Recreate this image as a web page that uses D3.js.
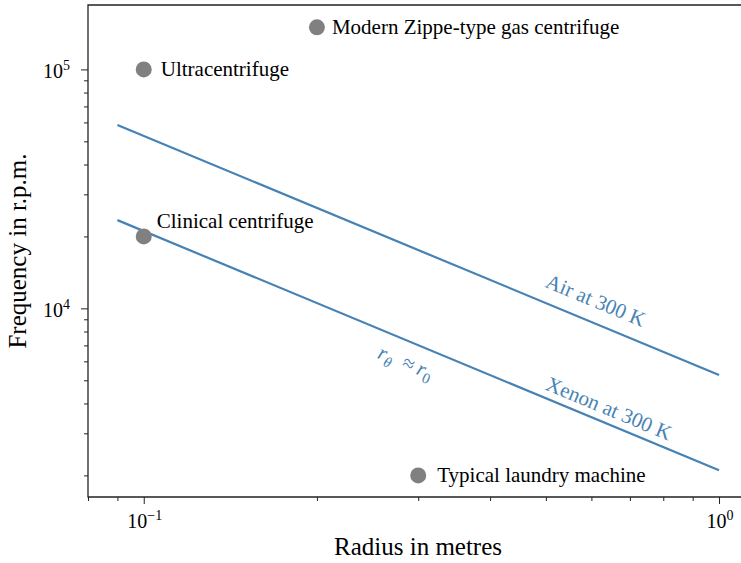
<!DOCTYPE html>
<html>
<head>
<meta charset="utf-8">
<script src="https://cdn.jsdelivr.net/npm/d3@7"></script>
<style>
  body { margin: 0; background: #fff; }
  svg { display: block; font-family: "Liberation Serif", "DejaVu Serif", serif; }
</style>
</head>
<body>
<svg id="chart" width="741" height="563"></svg>
<script>
// limiting rotor speed for two gases, frequency ~ 1/r
const lineRadius = [0.09, 1.0];
const airRpm = [58500, 5260];
const xenonRpm = [23400, 2100];

// some real machines
const machineNames = ["Modern Zippe-type gas centrifuge", "Ultracentrifuge", "Clinical centrifuge", "Typical laundry machine"];
const machineRadius = [0.2, 0.1, 0.1, 0.3];
const machineRpm = [150000, 100000, 20000, 2000];

const xMajorTicks = [0.1, 1];
const xTickExponents = ["\u22121", "0"];
const yMajorTicks = [1e4, 1e5];
const yTickExponents = ["4", "5"];

const BLUE = 'steelblue';
const GREY = 'grey';

const margin = {left: 88, top: 5, right: 748, bottom: 497};

const svg = d3.select('#chart');

const x = d3.scaleLog().domain([0.08, 1.123]).range([margin.left, margin.right]);
const y = d3.scaleLog().domain([1624, 186000]).range([margin.bottom, margin.top]);

/* ticks: majors with labels, minors without */
function minorTicks(scale) {
    let [lo, hi] = scale.domain();
    let out = [];
    for (let p = Math.floor(Math.log10(lo)); p <= Math.ceil(Math.log10(hi)); p++) {
        for (let k = 2; k <= 9; k++) {
            let v = k * Math.pow(10, p);
            if (v >= lo * 0.999 && v <= hi) out.push(v);
        }
    }
    return out;
}

let xAxis = svg.append('g').attr('transform', `translate(0,${margin.bottom})`);
xAxis.append('g').call(d3.axisBottom(x).tickValues(xMajorTicks).tickSize(7).tickFormat(''));
xAxis.append('g').call(d3.axisBottom(x).tickValues(minorTicks(x)).tickSize(4).tickFormat(''));
xAxis.selectAll('.domain').remove();

let yAxis = svg.append('g').attr('transform', `translate(${margin.left},0)`);
yAxis.append('g').call(d3.axisLeft(y).tickValues(yMajorTicks).tickSize(7).tickFormat(''));
yAxis.append('g').call(d3.axisLeft(y).tickValues(minorTicks(y)).tickSize(4).tickFormat(''));
yAxis.selectAll('.domain').remove();
svg.selectAll('.tick line').attr('stroke', '#222').attr('stroke-width', 1);

// power-of-ten labels
xMajorTicks.forEach((v, i) => {
    let t = svg.append('text')
        .attr('x', x(v) + 1)
        .attr('y', margin.bottom + 31)
        .attr('text-anchor', 'middle')
        .attr('font-size', 20);
    t.append('tspan').text('10');
    t.append('tspan').attr('dy', -8).attr('font-size', 14).text(xTickExponents[i]);
});
yMajorTicks.forEach((v, i) => {
    let t = svg.append('text')
        .attr('x', margin.left - 18)
        .attr('y', y(v) + 8.5)
        .attr('text-anchor', 'end')
        .attr('font-size', 20);
    t.append('tspan').text('10');
    t.append('tspan').attr('dy', -8).attr('font-size', 14).text(yTickExponents[i]);
});

// spines (right one falls outside the picture)
svg.append('path')
    .attr('d', `M${margin.right},${margin.top}H${margin.left}V${margin.bottom}H${margin.right}`)
    .attr('fill', 'none')
    .attr('stroke', '#222')
    .attr('stroke-width', 1.3);

// axis titles
svg.append('text')
    .attr('x', 418).attr('y', 555)
    .attr('text-anchor', 'middle')
    .attr('font-size', 25)
    .text('Radius in metres');
svg.append('text')
    .attr('transform', `translate(26,${(margin.top + margin.bottom) / 2}) rotate(-90)`)
    .attr('text-anchor', 'middle')
    .attr('font-size', 25)
    .text('Frequency in r.p.m.');

/* the two limit lines */
const line = d3.line().x(d => x(d[0])).y(d => y(d[1]));
for (let rpm of [airRpm, xenonRpm]) {
    svg.append('path')
        .datum(lineRadius.map((r, i) => [r, rpm[i]]))
        .attr('d', line)
        .attr('fill', 'none')
        .attr('stroke', BLUE)
        .attr('stroke-width', 2.2);
}

// angle of the lines on screen
const angle = Math.atan2(y(airRpm[1]) - y(airRpm[0]), x(lineRadius[1]) - x(lineRadius[0])) * 180 / Math.PI;

// line labels: anchor point in data coordinates, text centred there
const lineLabelRadius = [0.611, 0.644, 0.2856];
const lineLabelRpm = [10830, 3826, 5962];

function rotatedLabel(i) {
    return svg.append('text')
        .attr('transform', `translate(${x(lineLabelRadius[i])},${y(lineLabelRpm[i])}) rotate(${angle})`)
        .attr('text-anchor', 'middle')
        .attr('dy', '0.35em')
        .attr('font-size', 21)
        .attr('fill', BLUE);
}
rotatedLabel(0).text('Air at 300 K');
rotatedLabel(1).text('Xenon at 300 K');
let approx = rotatedLabel(2).attr('font-style', 'italic');
approx.append('tspan').text('r');
approx.append('tspan').attr('dy', 5).attr('font-size', 15).text('\u03b8');
approx.append('tspan').attr('dy', -5).attr('font-style', 'normal').text('\u2002\u2248\u2009');
approx.append('tspan').text('r');
approx.append('tspan').attr('dy', 5).attr('font-size', 15).attr('font-style', 'normal').text('0');

/* machines */
const labelDx = [15, 17, 13, 19];
const labelDy = [0, 0, -15, 0];

machineNames.forEach((name, i) => {
    let cx = x(machineRadius[i]), cy = y(machineRpm[i]);
    svg.append('circle')
        .attr('cx', cx).attr('cy', cy).attr('r', 8)
        .attr('fill', GREY);
    svg.append('text')
        .attr('x', cx + labelDx[i])
        .attr('y', cy + labelDy[i])
        .attr('dy', '0.33em')
        .attr('font-size', 21)
        .text(name);
});
</script>
</body>
</html>
